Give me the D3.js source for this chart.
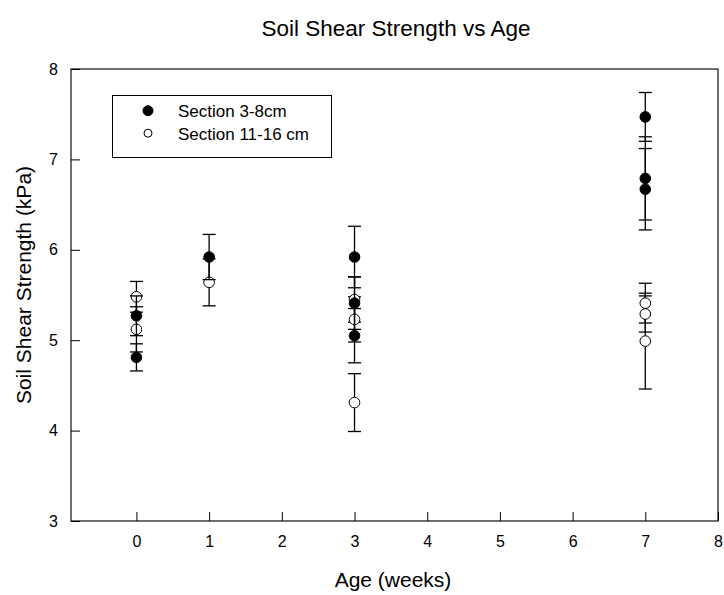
<!DOCTYPE html>
<html>
<head>
<meta charset="utf-8">
<script src="https://cdn.jsdelivr.net/npm/d3@7"></script>
<style>
  body { margin: 0; background: #fff; }
  text { font-family: "Liberation Sans", Arial, sans-serif; fill: #000; }
</style>
</head>
<body>
<div id="chart-area"></div>
<script>
// Data
var shallowAge = [0, 0, 1, 3, 3, 3, 7, 7, 7];
var shallowVal = [4.81, 5.27, 5.92, 5.92, 5.41, 5.05, 7.47, 6.79, 6.67];
var shallowErr = [0.15, 0.22, 0.25, 0.34, 0.29, 0.30, 0.27, 0.46, 0.45];

var deepAge = [0, 0, 1, 3, 3, 3, 7, 7, 7];
var deepVal = [5.48, 5.12, 5.64, 5.45, 5.23, 4.31, 5.41, 5.29, 4.99];
var deepErr = [0.17, 0.25, 0.26, 0.25, 0.25, 0.32, 0.22, 0.20, 0.53];

var xTicks = [0, 1, 2, 3, 4, 5, 6, 7, 8];
var yTicks = [3, 4, 5, 6, 7, 8];

var margin = { left: 71, right: 6, top: 69, bottom: 74 };
var width = 724 - margin.left - margin.right,
    height = 595 - margin.top - margin.bottom;

var svg = d3.select("#chart-area")
    .append("svg")
        .attr("width", 724)
        .attr("height", 595);

var g = svg.append("g")
    .attr("transform", "translate(" + margin.left + "," + margin.top + ")");

// Scales
var x = d3.scaleLinear()
    .domain([-0.9, 8])
    .range([0, width]);

var y = d3.scaleLinear()
    .domain([3, 8])
    .range([height, 0]);

// Title and labels
svg.append("text")
    .attr("x", 396)
    .attr("y", 36)
    .attr("text-anchor", "middle")
    .attr("font-size", "22.5px")
    .text("Soil Shear Strength vs Age");

svg.append("text")
    .attr("x", 393)
    .attr("y", 587)
    .attr("text-anchor", "middle")
    .attr("font-size", "21px")
    .text("Age (weeks)");

svg.append("text")
    .attr("transform", "translate(31,285) rotate(-90)")
    .attr("text-anchor", "middle")
    .attr("font-size", "21px")
    .text("Soil Shear Strength (kPa)");

// Frame
g.append("rect")
    .attr("width", width)
    .attr("height", height)
    .attr("fill", "none")
    .attr("stroke", "#222")
    .attr("stroke-width", 1.3);

// Axes with inward ticks
var xAxis = g.append("g")
    .attr("transform", "translate(0," + height + ")")
    .call(d3.axisBottom(x).tickValues(xTicks).tickFormat(d3.format("d"))
        .tickSizeInner(-9).tickSizeOuter(0).tickPadding(15));
var yAxis = g.append("g")
    .call(d3.axisLeft(y).tickValues(yTicks).tickFormat(d3.format("d"))
        .tickSizeInner(-9).tickSizeOuter(0).tickPadding(13));

[xAxis, yAxis].forEach(function(ax) {
    ax.select(".domain").remove();
    ax.selectAll("line").attr("stroke", "#000");
    ax.selectAll("text")
        .attr("font-size", "16px")
        .attr("font-family", "Liberation Sans, Arial, sans-serif");
});

// Points with error bars
function drawSeries(ages, vals, errs, fill) {
    var rows = ages.map(function(a, i) { return { age: a, v: vals[i], e: errs[i] }; });
    var s = g.append("g");

    var bars = s.selectAll(".err").data(rows).enter().append("g").attr("class", "err");
    bars.append("line")
        .attr("x1", function(d) { return x(d.age); })
        .attr("x2", function(d) { return x(d.age); })
        .attr("y1", function(d) { return y(d.v + d.e); })
        .attr("y2", function(d) { return y(d.v - d.e); })
        .attr("stroke", "#000").attr("stroke-width", 1.3);
    [1, -1].forEach(function(sign) {
        bars.append("line")
            .attr("x1", function(d) { return x(d.age) - 6.5; })
            .attr("x2", function(d) { return x(d.age) + 6.5; })
            .attr("y1", function(d) { return y(d.v + sign * d.e); })
            .attr("y2", function(d) { return y(d.v + sign * d.e); })
            .attr("stroke", "#000").attr("stroke-width", 1.3);
    });

    s.selectAll("circle").data(rows).enter().append("circle")
        .attr("cx", function(d) { return x(d.age); })
        .attr("cy", function(d) { return y(d.v); })
        .attr("r", 5.3)
        .attr("fill", fill)
        .attr("stroke", "#000")
        .attr("stroke-width", 1);
}

drawSeries(deepAge, deepVal, deepErr, "#fff");
drawSeries(shallowAge, shallowVal, shallowErr, "#000");

// Legend
var legend = svg.append("g");
legend.append("rect")
    .attr("x", 112.5).attr("y", 95.5)
    .attr("width", 219).attr("height", 62)
    .attr("fill", "#fff")
    .attr("stroke", "#000")
    .attr("stroke-width", 1);

var legendRows = [["Section 3-8cm", "#000"], ["Section 11-16 cm", "#fff"]];
legendRows.forEach(function(r, i) {
    var row = legend.append("g").attr("transform", "translate(0," + (i * 22.5) + ")");
    row.append("circle")
        .attr("cx", 148).attr("cy", 110.7)
        .attr("r", i === 0 ? 5 : 4)
        .attr("fill", r[1])
        .attr("stroke", "#000").attr("stroke-width", 1);
    row.append("text")
        .attr("x", 178).attr("y", 117)
        .attr("font-size", "17px")
        .text(r[0]);
});
</script>
</body>
</html>
